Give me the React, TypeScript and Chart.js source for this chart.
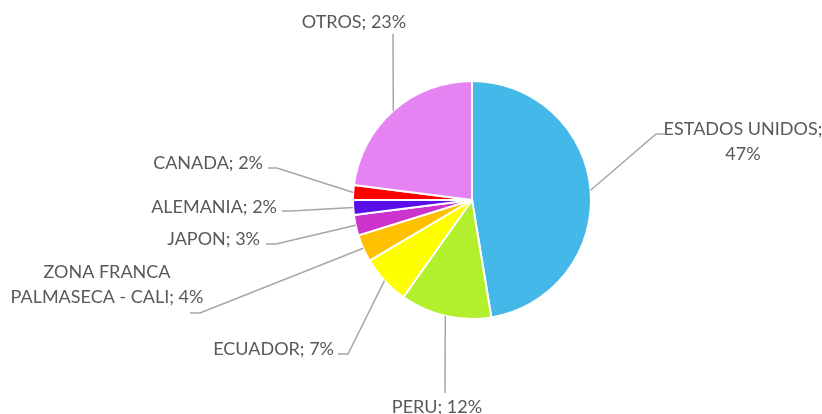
import React, { useEffect, useRef } from "react";
import { Chart, registerables } from "chart.js";

Chart.register(...registerables);

const categories = [
  "ESTADOS UNIDOS",
  "PERU",
  "ECUADOR",
  "ZONA FRANCA PALMASECA - CALI",
  "JAPON",
  "ALEMANIA",
  "CANADA",
  "OTROS",
];
const shares = [47.4, 12.4, 6.7, 3.7, 2.8, 2.0, 2.0, 23.0];
const colors = [
  "#45B8EA",
  "#B2F02E",
  "#FFFF00",
  "#FFC000",
  "#CC33CC",
  "#5B0FE8",
  "#FF0000",
  "#E683F3",
];

// Label layout relative to the pie centre (px): text anchor, alignment,
// leader end point, knee offset, and words on first line when wrapped.
const labelLayout = [
  { tx: 271, ty: -58.5, align: "center", ex: 193, ey: -66, knee: -9, wrap: 2 },
  { tx: -35, ty: 207, align: "center", ex: -27, ey: 193, knee: 0, wrap: 0 },
  { tx: -138, ty: 149, align: "right", ex: -134, ey: 154, knee: 10, wrap: 0 },
  { tx: -365, ty: 84.5, align: "center", ex: -282, ey: 113, knee: 10, wrap: 2 },
  { tx: -212, ty: 39, align: "right", ex: -206, ey: 44, knee: 10, wrap: 0 },
  { tx: -195, ty: 7, align: "right", ex: -190, ey: 11, knee: 9, wrap: 0 },
  { tx: -209, ty: -37, align: "right", ex: -204, ey: -32, knee: 9, wrap: 0 },
  { tx: -118, ty: -178, align: "center", ex: -79, ey: -166, knee: 0, wrap: 0 },
];

const FONT = '18px Lato, "Open Sans", sans-serif';
const LINE_H = 24.5;

const leaderLabels = {
  id: "leaderLabels",
  afterDatasetsDraw(chart: any) {
    const ctx = chart.ctx;
    const meta = chart.getDatasetMeta(0);
    const data = chart.data.datasets[0].data as number[];
    const total = data.reduce((a, b) => a + b, 0);
    ctx.save();
    meta.data.forEach((arc: any, i: number) => {
      const lay = labelLayout[i];
      const cx = arc.x;
      const cy = arc.y;
      const mid = (arc.startAngle + arc.endAngle) / 2;
      const r = arc.outerRadius;
      const px = cx + Math.cos(mid) * r;
      const py = cy + Math.sin(mid) * r;
      const ex = cx + lay.ex;
      const ey = cy + lay.ey;
      const kx = ex + lay.knee;
      ctx.strokeStyle = "#A6A6A6";
      ctx.lineWidth = 1.5;
      ctx.beginPath();
      ctx.moveTo(px, py);
      ctx.lineTo(kx, ey);
      ctx.lineTo(ex, ey);
      ctx.stroke();

      const pct = Math.round((data[i] / total) * 100);
      const text = `${categories[i]}; ${pct}%`;
      let lines = [text];
      if (lay.wrap > 0) {
        const words = text.split(" ");
        lines = [words.slice(0, lay.wrap).join(" "), words.slice(lay.wrap).join(" ")];
      }
      ctx.font = FONT;
      ctx.fillStyle = "#595959";
      ctx.textAlign = lay.align;
      ctx.textBaseline = "middle";
      const tx = cx + lay.tx;
      const ty0 = cy + lay.ty - ((lines.length - 1) * LINE_H) / 2;
      lines.forEach((ln, j) => ctx.fillText(ln, tx, ty0 + j * LINE_H));
    });
    ctx.restore();
  },
};

export default function App() {
  const ref = useRef<HTMLCanvasElement | null>(null);
  useEffect(() => {
    if (!ref.current) return;
    const chart = new Chart(ref.current, {
      type: "pie",
      data: {
        labels: categories,
        datasets: [
          {
            data: shares,
            backgroundColor: colors,
            borderColor: "#FFFFFF",
            borderWidth: 2,
          },
        ],
      },
      options: {
        responsive: false,
        animation: false,
        layout: { padding: { left: 352, right: 230, top: 80, bottom: 94 } },
        plugins: {
          legend: { display: false },
          tooltip: { enabled: false },
        },
      },
      plugins: [leaderLabels],
    });
    return () => chart.destroy();
  }, []);
  return (
    <div style={{ position: "fixed", left: 0, top: 0, width: 822, height: 414, background: "#fff" }}>
      <canvas ref={ref} width={822} height={414} />
    </div>
  );
}
